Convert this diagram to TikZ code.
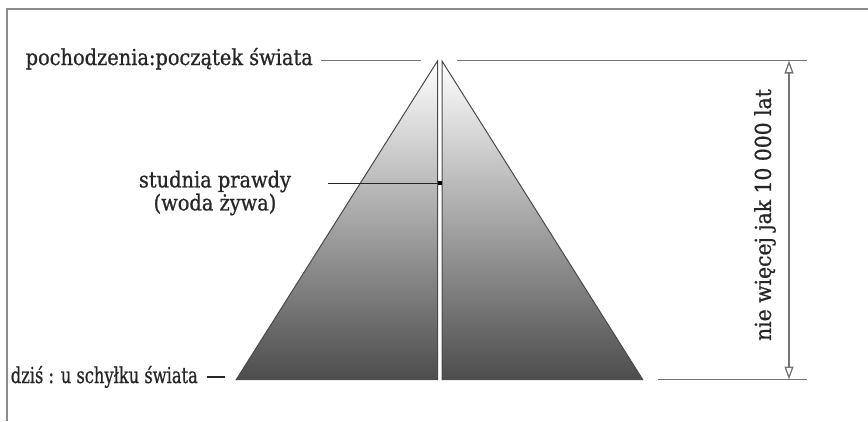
\documentclass[tikz,border=0pt]{standalone}
\usepackage{fontspec}
\setmainfont{DejaVu Serif}[FakeStretch=0.88, FakeBold=0.8]
\usetikzlibrary{arrows.meta,calc}
\definecolor{txt}{HTML}{262626}
\definecolor{guide}{HTML}{747474}
\definecolor{framec}{HTML}{8C8C8C}
\definecolor{edgec}{HTML}{4A4A4A}
\tikzset{
  lbl/.style={inner sep=0pt, text=txt, font=\fontsize{22}{23}\selectfont},
  guideline/.style={draw=guide, line width=1.3pt},
  framestyle/.style={draw=framec, line width=2pt},
  edgestyle/.style={draw=edgec, line width=1pt, line join=miter},
  halfshade/.style={top color=white, bottom color=black!70},
  dimline/.style={draw=guide, line width=1.3pt, {Triangle[open,length=13pt,width=9pt]}-{Triangle[open,length=13pt,width=9pt]}}
}
\begin{document}
\begin{tikzpicture}[x=1pt,y=-1pt]
\useasboundingbox (0,0) rectangle (868,421);
% frame
\coordinate (F1) at (7,421);
\coordinate (F2) at (7,9);
\coordinate (F3) at (868,9);
\draw[framestyle] (F1) -- (F2) -- (F3);
% pyramid halves
\coordinate (LA) at (437.5,61);
\coordinate (LB) at (236,380);
\coordinate (LC) at (437.5,380);
\coordinate (RA) at (442,61);
\coordinate (RB) at (442,380);
\coordinate (RC) at (643,380);
\shade[halfshade] (LA) -- (LB) -- (LC) -- cycle;
\shade[halfshade] (RA) -- (RB) -- (RC) -- cycle;
\draw[edgestyle] (LB) -- (LA) -- (LC);
\draw[edgestyle] (RC) -- (RA) -- (RB);
% labels
\node[lbl, anchor=base east] (top) at (313,65) {pochodzenia:początek świata};
\node[lbl, anchor=base east] (bottom) at (198,383) {\scalebox{0.84}[1]{dziś : u schyłku świata}};
\node[lbl, align=center] (well) at (215,193) {studnia prawdy\\(woda żywa)};
\node[lbl, rotate=90] (span) at (765,215) {\scalebox{1.05}[1]{nie więcej jak 10 000 lat}};
% guide lines
\coordinate (T1) at (321,60.5);
\coordinate (T2) at (421,60.5);
\coordinate (T3) at (457,60.5);
\coordinate (T4) at (807,60.5);
\coordinate (B1) at (207,377);
\coordinate (B2) at (225,377);
\coordinate (B3) at (658,379.5);
\coordinate (B4) at (807,379.5);
\coordinate (W1) at (328,183);
\coordinate (W2) at (440,183);
\coordinate (D1) at (789,379.5);
\coordinate (D2) at (789,60.5);
\draw[guideline] (T1) -- (T2);
\draw[guideline] (T3) -- (T4);
\draw[guideline, draw=txt] (B1) -- (B2);
\draw[guideline] (B3) -- (B4);
\draw[draw=txt, line width=1pt] (W1) -- (W2);
\fill[black] ($(W2)+(-2,-2)$) rectangle ($(W2)+(2,2)$);
\draw[dimline] (D1) -- (D2);
\end{tikzpicture}
\end{document}
